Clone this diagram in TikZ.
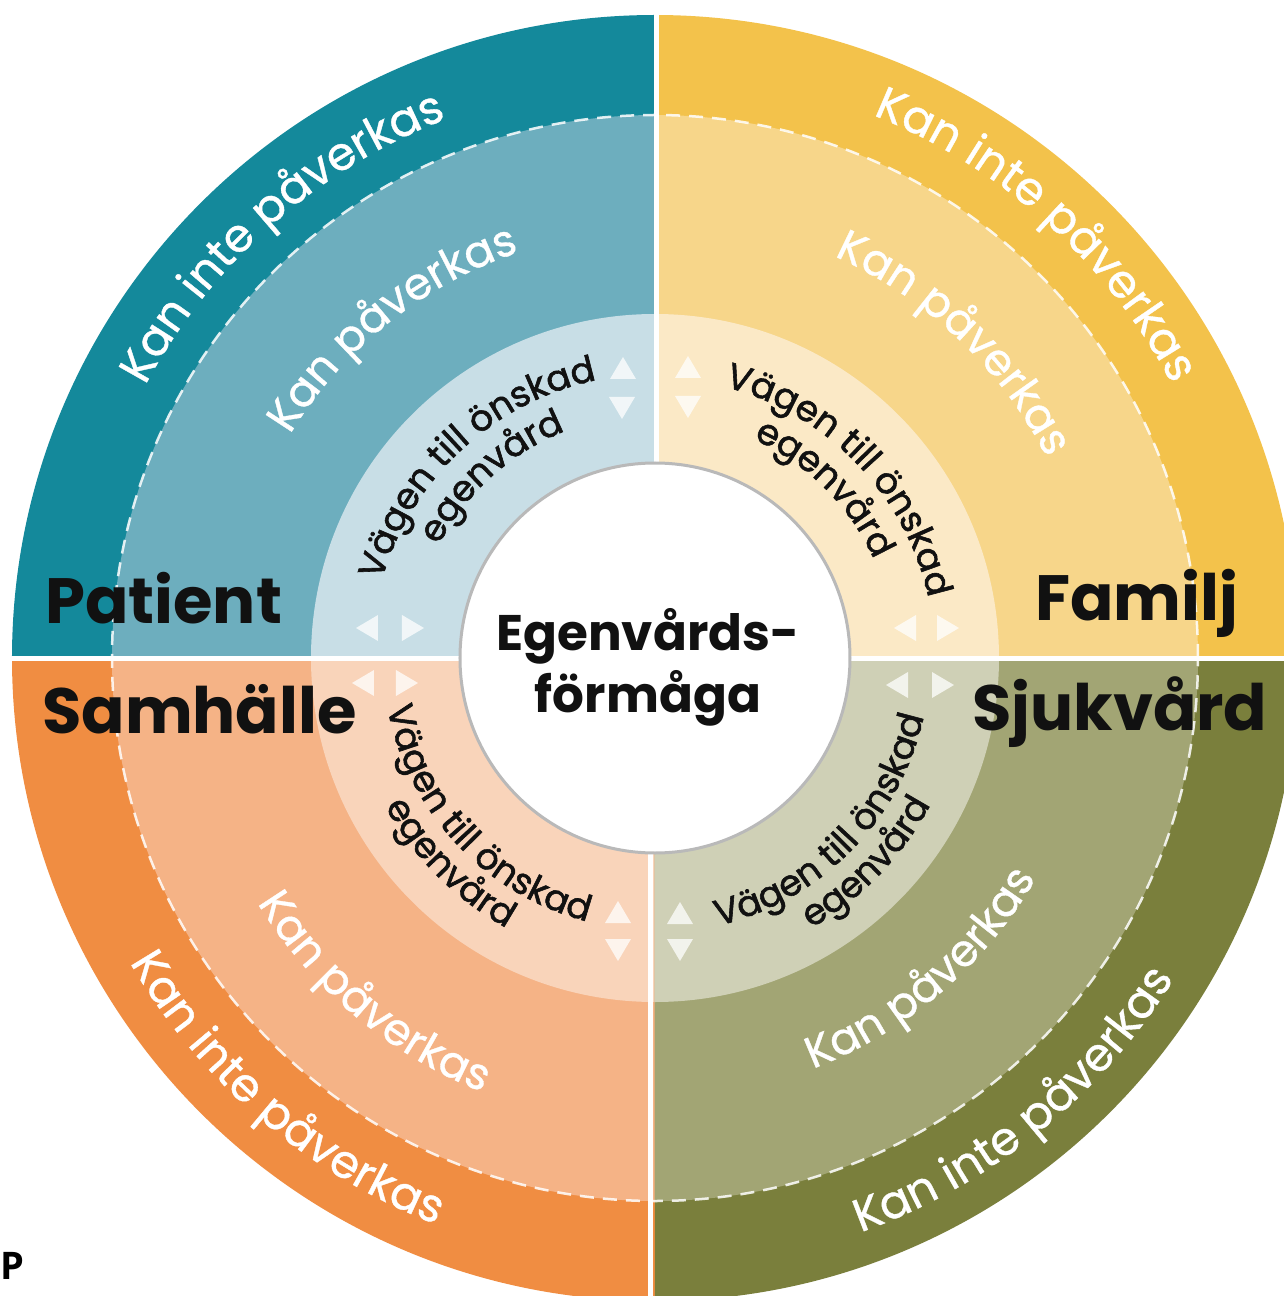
\documentclass[tikz,border=0pt]{standalone}
\usepackage{fontspec}
\setmainfont{Poppins}
\newfontfamily\popmed[FakeBold=1.6]{Poppins}
\newfontfamily\poplt[FakeBold=0.8]{Poppins}
\newfontfamily\pfont{Open Sans}
\usetikzlibrary{decorations.text}
\definecolor{tealA}{HTML}{14899B}
\definecolor{tealB}{HTML}{6DAEBE}
\definecolor{tealC}{HTML}{C8DEE6}
\definecolor{yelA}{HTML}{F3C24B}
\definecolor{yelB}{HTML}{F7D68A}
\definecolor{yelC}{HTML}{FBE9C6}
\definecolor{orgA}{HTML}{F08D42}
\definecolor{orgB}{HTML}{F5B386}
\definecolor{orgC}{HTML}{F9D4BA}
\definecolor{olvA}{HTML}{7A7F3C}
\definecolor{olvB}{HTML}{A2A574}
\definecolor{olvC}{HTML}{CFD0B6}
\definecolor{inkc}{HTML}{111111}
\newcommand\quadsec[4]{%
  \fill[#2] (0,0) -- (#1:643) arc[start angle=#1, end angle=#1+90, radius=643] -- cycle;
  \fill[#3] (0,0) -- (#1:543) arc[start angle=#1, end angle=#1+90, radius=543] -- cycle;
  \fill[#4] (0,0) -- (#1:344) arc[start angle=#1, end angle=#1+90, radius=344] -- cycle;}
\newcommand\cwtext[5]{% center angle, radius, font, colour, text
  \pgfmathsetmacro\sa{#1+60}\pgfmathsetmacro\ea{#1-60}%
  \path[decorate, decoration={text along path, text align=center,
     text={|#3\color{#4}|#5}}]
     (\sa:#2) arc[start angle=\sa, end angle=\ea, radius=#2];}
\newcommand\ccwtext[5]{%
  \pgfmathsetmacro\sa{#1-60}\pgfmathsetmacro\ea{#1+60}%
  \path[decorate, decoration={text along path, text align=center,
     text={|#3\color{#4}|#5}}]
     (\sa:#2) arc[start angle=\sa, end angle=\ea, radius=#2];}
\newcommand\fo{\poplt\fontsize{46}{46}\selectfont}
\newcommand\fm{\poplt\fontsize{44}{44}\selectfont}
\newcommand\fv{\popmed\fontsize{36}{36}\selectfont}
\tikzset{tri/.style={fill=white, opacity=.75},
  quadlabel/.style={anchor=base west, inner sep=0, font=\fontsize{64}{64}\selectfont\bfseries, text=inkc},
  corelabel/.style={anchor=base, inner sep=0, font=\fontsize{50}{50}\selectfont\bfseries, text=inkc}}
\newcommand\tup[2]{\fill[tri] ({#1-13},{#2-11}) -- ({#1+13},{#2-11}) -- (#1,{#2+11}) -- cycle;}
\newcommand\tdown[2]{\fill[tri] ({#1-13},{#2+11}) -- ({#1+13},{#2+11}) -- (#1,{#2-11}) -- cycle;}
\newcommand\tleft[2]{\fill[tri] ({#1+11},{#2+13}) -- ({#1+11},{#2-13}) -- ({#1-11},#2) -- cycle;}
\newcommand\tright[2]{\fill[tri] ({#1-11},{#2+13}) -- ({#1-11},{#2-13}) -- ({#1+11},#2) -- cycle;}
\begin{document}
\begin{tikzpicture}[x=1pt,y=1pt]
\useasboundingbox (-655,-638) rectangle (629,658);
\begin{scope}
\clip (-655,-638) rectangle (629,658);
\quadsec{90}{tealA}{tealB}{tealC}
\quadsec{0}{yelA}{yelB}{yelC}
\quadsec{180}{orgA}{orgB}{orgC}
\quadsec{270}{olvA}{olvB}{olvC}
\draw[white, opacity=.85, line width=2.5, dash pattern=on 14 off 9] (0,0) circle[radius=543];
\draw[white, line width=5] (2,0) -- (2,660);
\draw[white, line width=5] (-4,0) -- (-4,-660);
\draw[white, line width=5] (-660,0) -- (660,0);
\end{scope}
\node[circle, fill=white, draw=gray!55, line width=3, minimum size=390, inner sep=0] (core) at (0,0) {};
% triangles
\tup{-32}{290}\tdown{-33}{250}\tleft{-288}{30}\tright{-242}{30}
\tup{33}{291}\tdown{33}{251}\tleft{250}{30}\tright{293}{30}
\tleft{-292}{-25}\tright{-248}{-25}\tup{-37}{-254}\tdown{-37}{-292}
\tleft{242}{-27}\tright{288}{-27}\tup{25}{-255}\tdown{25}{-292}
% outer texts
\cwtext{131.5}{578}{\fo}{white}{Kan inte påverkas}
\cwtext{48}{585}{\fo}{white}{Kan inte påverkas}
\ccwtext{229.5}{607}{\fo}{white}{Kan inte påverkas}
\ccwtext{309}{610}{\fo}{white}{Kan inte påverkas}
% middle texts
\cwtext{128.5}{428}{\fm}{white}{Kan påverkas}
\cwtext{46.5}{440}{\fm}{white}{Kan påverkas}
\ccwtext{230}{467}{\fm}{white}{Kan påverkas}
\ccwtext{310.5}{440}{\fm}{white}{Kan påverkas}
% inner ring texts
\cwtext{133}{284}{\fv}{inkc}{Vägen till önskad}
\cwtext{132}{244}{\fv}{inkc}{egenvård}
\cwtext{44}{280}{\fv}{inkc}{Vägen till önskad}
\cwtext{45}{240}{\fv}{inkc}{egenvård}
\ccwtext{223}{272}{\fv}{inkc}{Vägen till önskad}
\ccwtext{225}{308}{\fv}{inkc}{egenvård}
\ccwtext{315.5}{275}{\fv}{inkc}{Vägen till önskad}
\ccwtext{316}{312}{\fv}{inkc}{egenvård}
% labels
\node[quadlabel] (patient) at (-610,35) {Patient};
\node[quadlabel] (familj) at (380,38) {Familj};
\node[quadlabel] (samhalle) at (-613,-75) {Samhälle};
\node[quadlabel] (sjukvard) at (317,-72) {Sjukvård};
\node[corelabel] (core1) at (-7,8) {Egenvårds-};
\node[corelabel] (core2) at (-7,-54) {förmåga};
\node[anchor=base west, inner sep=0, font=\pfont\fontsize{38}{38}\selectfont\bfseries] (pmark) at (-655,-621) {P};
\end{tikzpicture}
\end{document}
